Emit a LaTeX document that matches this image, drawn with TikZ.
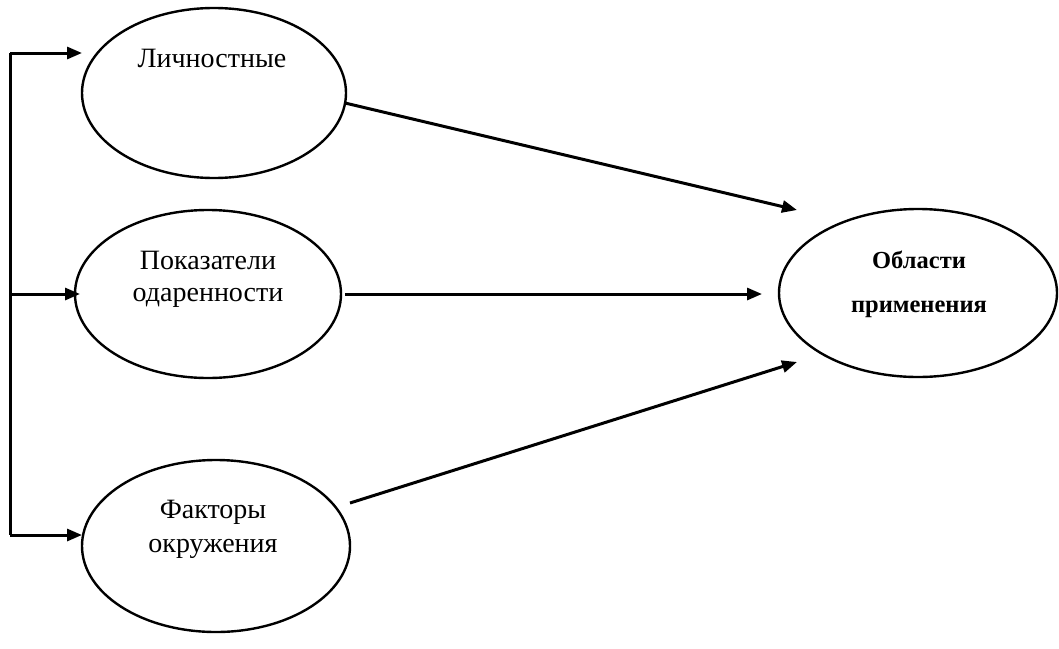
\documentclass[tikz,border=0pt]{standalone}
\usepackage{fontspec}
\setmainfont{Liberation Serif}
\usetikzlibrary{arrows.meta}
\begin{document}
\begin{tikzpicture}[x=1pt,y=-1pt,
  oval/.style={line width=2.4pt},
  conn/.style={line width=3pt,-{Triangle[length=15pt,width=12pt]}},
  lbl/.style={font=\fontsize{28}{34}\selectfont,align=center},
  blbl/.style={font=\fontsize{24.5}{30}\selectfont\bfseries,align=center}]
\useasboundingbox (0,0) rectangle (1059,648);
\draw[oval] (214,93) ellipse [x radius=132, y radius=85];
\draw[oval] (208,294) ellipse [x radius=133, y radius=84];
\draw[oval] (216,546) ellipse [x radius=134, y radius=86];
\draw[oval] (918,293) ellipse [x radius=139, y radius=84];
\node[lbl] (a) at (212,58) {Личностные};
\node[lbl] (b) at (208,279) {Показатели\\[-2pt]одаренности};
\node[lbl] (c) at (213,529) {Факторы\\[0pt]окружения};
\node[blbl] (d) at (919,284) {Области\\[14pt]применения};
\coordinate (a1) at (345,103);
\coordinate (b1) at (345,294);
\coordinate (c1) at (350,503);
\coordinate (d1) at (797,210);
\coordinate (d2) at (762,294);
\coordinate (d3) at (797,362);
\coordinate (t) at (10,53);
\coordinate (m) at (10,294);
\coordinate (u) at (10,535);
\coordinate (ta) at (82,53);
\coordinate (ma) at (80,294);
\coordinate (ua) at (82,535);
\draw[line width=3pt] (t) -- (u);
\draw[conn] (t) -- (ta);
\draw[conn] (m) -- (ma);
\draw[conn] (u) -- (ua);
\draw[conn] (a1) -- (d1);
\draw[conn] (b1) -- (d2);
\draw[conn] (c1) -- (d3);
\end{tikzpicture}
\end{document}
